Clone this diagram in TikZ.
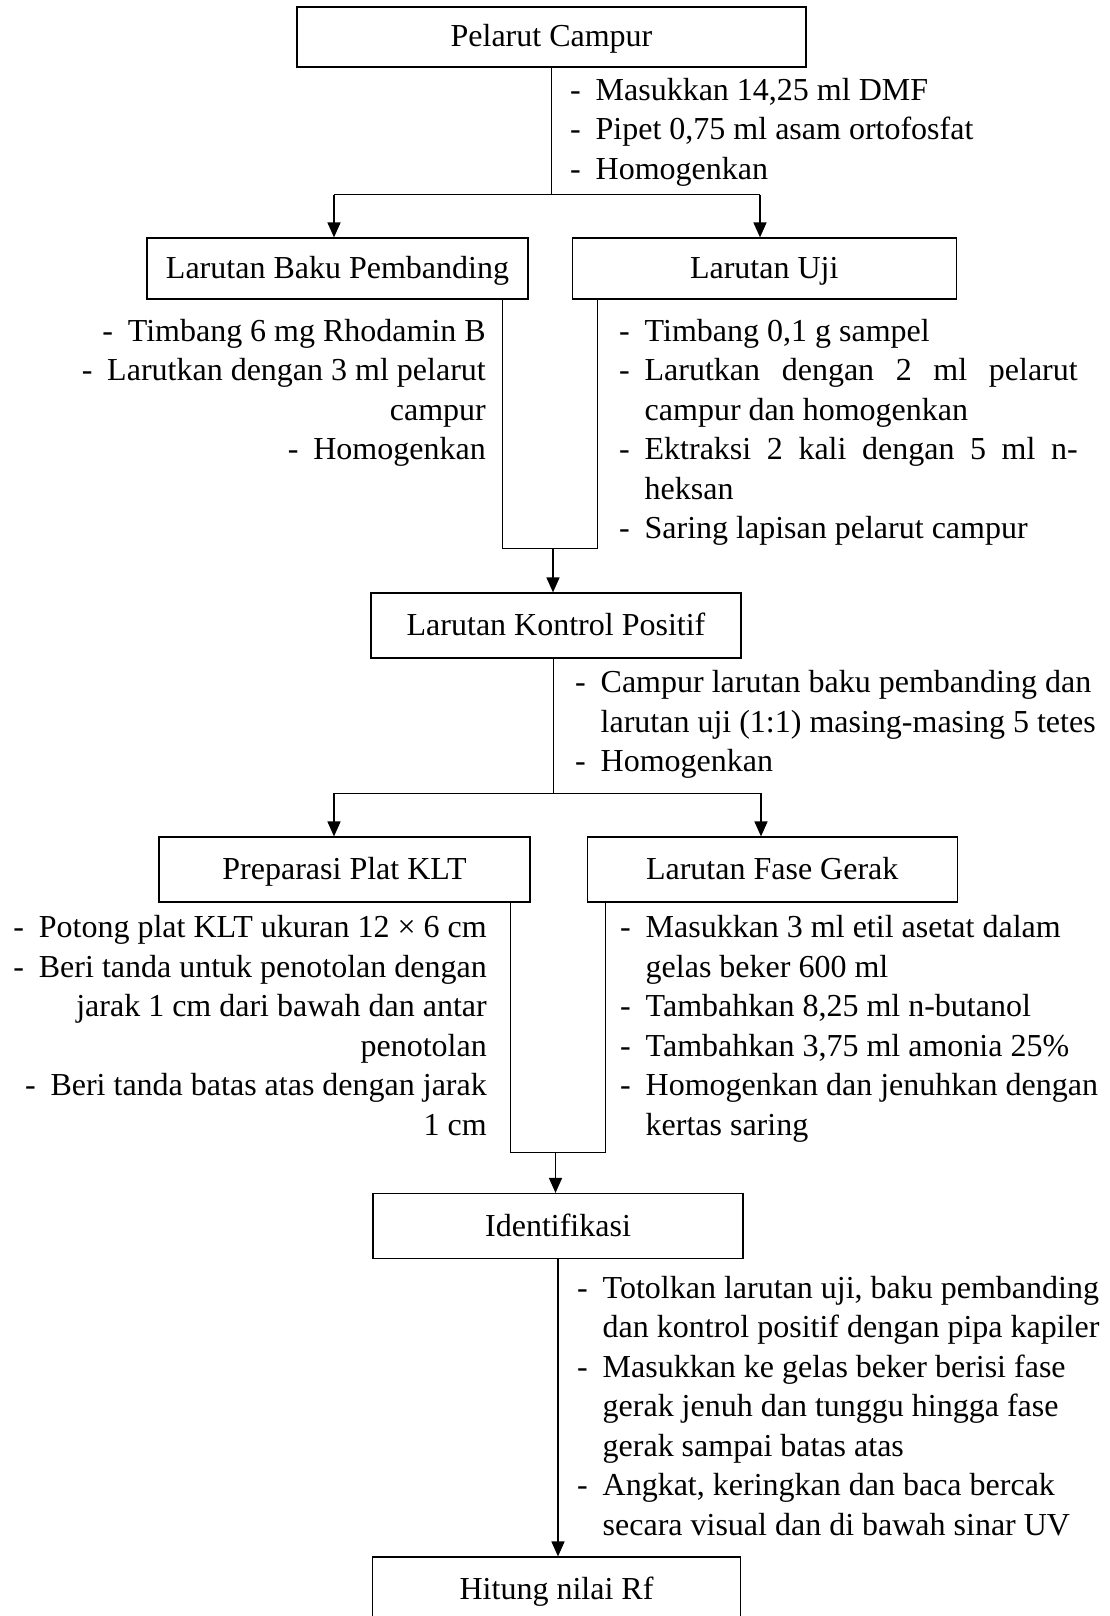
\documentclass[tikz,border=0pt]{standalone}
\usepackage{fontspec}
\setmainfont{Liberation Serif}
\usetikzlibrary{arrows.meta,positioning,calc}

\newcommand{\dsh}{\makebox[25.5pt][l]{-}}
\newcommand{\ind}{\hspace*{25.5pt}}

\begin{document}
\begin{tikzpicture}[x=1pt,y=-1pt,>={Triangle[length=15pt,width=13pt]},
	font=\fontsize{32}{39.5}\selectfont,
	main node/.style={draw,line width=1.2pt,inner sep=0pt,minimum height=65pt,
		text height=21pt,text depth=1pt},
	list node/.style={inner sep=0pt,execute at begin node=\strut},
	line/.style={line width=1pt},
	arrow line/.style={line width=1.5pt,->}]

	\fill[white] (0,0) rectangle (1110,1616);
	\useasboundingbox (0,0) rectangle (1110,1616);

	% boxes
	\node[main node,minimum width=509pt,minimum height=60pt] (PC) at (551.5,37) {Pelarut Campur};
	\node[main node,minimum width=381pt,minimum height=61pt] (LBP) at (337.5,268.5) {Larutan Baku Pembanding};
	\node[main node,minimum width=384pt,minimum height=61pt] (LU) [right = 43pt of LBP] {Larutan Uji};
	\node[main node,minimum width=370pt] (KP) at (556,625.5) {Larutan Kontrol Positif};
	\node[main node,minimum width=371pt] (PP) at (344.5,869.5) {Preparasi Plat KLT};
	\node[main node,minimum width=370pt] (FG) [right = 56pt of PP] {Larutan Fase Gerak};
	\node[main node,minimum width=370pt] (ID) at (558,1226) {Identifikasi};
	\node[main node,minimum width=368pt] (HR) at (556.5,1589.5) {Hitung nilai Rf};

	% steps
	\node[list node,anchor=north west,align=left] (PCt) at (570,77.85)
		{\dsh Masukkan 14,25 ml DMF\\ \dsh Pipet 0,75 ml asam ortofosfat\\ \dsh Homogenkan};
	\node[list node,anchor=north east,align=right] (LBPt) at (486,318.85)
		{\dsh Timbang 6 mg Rhodamin B\\ \dsh Larutkan dengan 3 ml pelarut\\ campur\\ \dsh Homogenkan};
	\node[list node,anchor=north west,align=left] (LUt) at (619,318.85)
		{\dsh Timbang 0,1 g sampel\\
		\dsh\makebox[433pt][s]{Larutkan dengan 2 ml pelarut}\\
		\ind campur dan homogenkan\\
		\dsh\makebox[433pt][s]{Ektraksi 2 kali dengan 5 ml n-}\\
		\ind heksan\\
		\dsh Saring lapisan pelarut campur};
	\node[list node,anchor=north west,align=left] (KPt) at (575,670.35)
		{\dsh Campur larutan baku pembanding dan\\ \ind larutan uji (1:1) masing-masing 5 tetes\\ \dsh Homogenkan};
	\node[list node,anchor=north east,align=right] (PPt) at (487,915.35)
		{\dsh Potong plat KLT ukuran 12 × 6 cm\\
		\dsh Beri tanda untuk penotolan dengan\\
		jarak 1 cm dari bawah dan antar\\
		penotolan\\
		\dsh Beri tanda batas atas dengan jarak\\
		1 cm};
	\node[list node,anchor=north west,align=left] (FGt) at (620,915.35)
		{\dsh Masukkan 3 ml etil asetat dalam\\
		\ind gelas beker 600 ml\\
		\dsh Tambahkan 8,25 ml n-butanol\\
		\dsh Tambahkan 3,75 ml amonia 25\%\\
		\dsh Homogenkan dan jenuhkan dengan\\
		\ind kertas saring};
	\node[list node,anchor=north west,align=left] (IDt) at (577,1275.85)
		{\dsh Totolkan larutan uji, baku pembanding\\
		\ind dan kontrol positif dengan pipa kapiler\\
		\dsh Masukkan ke gelas beker berisi fase\\
		\ind gerak jenuh dan tunggu hingga fase\\
		\ind gerak sampai batas atas\\
		\dsh Angkat, keringkan dan baca bercak\\
		\ind secara visual dan di bawah sinar UV};

	% branch and join points
	\coordinate (b1) at (551.5,195);
	\coordinate (t1l) at (334,195);
	\coordinate (t1r) at (760,195);
	\coordinate (m1l) at (502,548);
	\coordinate (m1r) at (597,548);
	\coordinate (m1) at (553,548);
	\coordinate (b2) at (553.5,793);
	\coordinate (t2l) at (334,793);
	\coordinate (t2r) at (761,793);
	\coordinate (m2l) at (510.5,1152);
	\coordinate (m2r) at (605.5,1152);
	\coordinate (m2) at (555.5,1152);

	\draw[line] (PC.south) -- (b1);
	\draw[line] (t1l) -- (t1r);
	\draw[arrow line] (t1l) -- (t1l |- LBP.north);
	\draw[arrow line] (t1r) -- (t1r |- LU.north);

	\draw[line] (LBP.south -| m1l) -- (m1l) -- (m1r) -- (LU.south -| m1r);
	\draw[arrow line] (m1) -- (m1 |- KP.north);

	\draw[line] (KP.south -| b2) -- (b2);
	\draw[line] (t2l) -- (t2r);
	\draw[arrow line] (t2l) -- (t2l |- PP.north);
	\draw[arrow line] (t2r) -- (t2r |- FG.north);

	\draw[line] (PP.south -| m2l) -- (m2l) -- (m2r) -- (FG.south -| m2r);
	\draw[arrow line] (m2) -- (m2 |- ID.north);

	\draw[arrow line] (ID.south) -- (ID.south |- HR.north);

\end{tikzpicture}
\end{document}
